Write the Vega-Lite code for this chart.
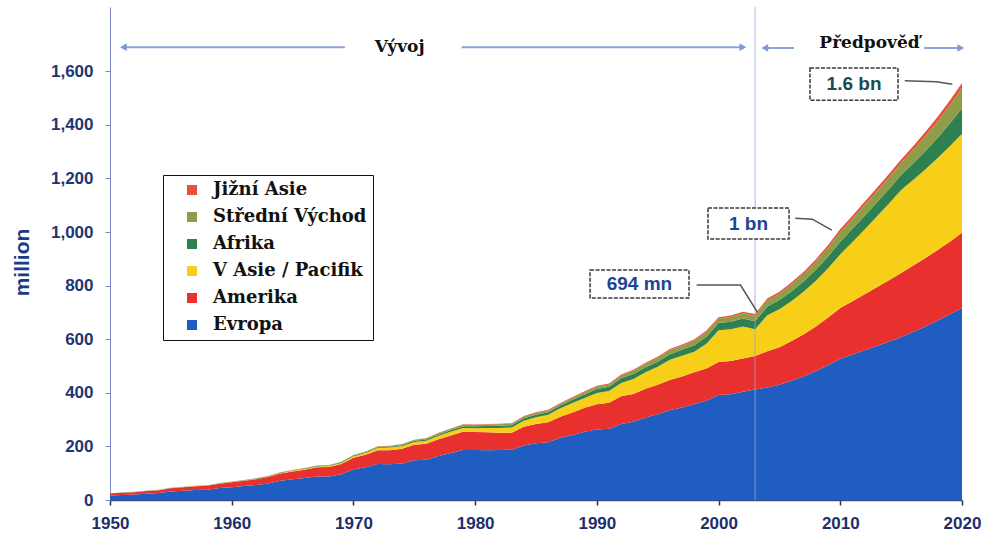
{
  "$schema": "https://vega.github.io/schema/vega-lite/v6.json",
  "width": 852,
  "height": 493,
  "autosize": {"type": "none"},
  "padding": {"left": 110, "top": 7, "right": 23, "bottom": 41},
  "background": "white",
  "config": {"view": {"stroke": null}},
  "datasets": {
    "oblasti": [
      {"oblast": "Evropa", "poradi": 1},
      {"oblast": "Amerika", "poradi": 2},
      {"oblast": "V Asie / Pacifik", "poradi": 3},
      {"oblast": "Afrika", "poradi": 4},
      {"oblast": "Střední Východ", "poradi": 5},
      {"oblast": "Jižní Asie", "poradi": 6}
    ],
    "prichody": [
      {"rok":1950,"oblast":"Evropa","mil":16.8},{"rok":1950,"oblast":"Amerika","mil":7.5},{"rok":1950,"oblast":"V Asie / Pacifik","mil":0.2},{"rok":1950,"oblast":"Afrika","mil":0.5},{"rok":1950,"oblast":"Střední Východ","mil":0.2},{"rok":1950,"oblast":"Jižní Asie","mil":0.1},
      {"rok":1951,"oblast":"Evropa","mil":18.5},{"rok":1951,"oblast":"Amerika","mil":8.2},{"rok":1951,"oblast":"V Asie / Pacifik","mil":0.3},{"rok":1951,"oblast":"Afrika","mil":0.6},{"rok":1951,"oblast":"Střední Východ","mil":0.3},{"rok":1951,"oblast":"Jižní Asie","mil":0.1},
      {"rok":1952,"oblast":"Evropa","mil":20.5},{"rok":1952,"oblast":"Amerika","mil":8.6},{"rok":1952,"oblast":"V Asie / Pacifik","mil":0.3},{"rok":1952,"oblast":"Afrika","mil":0.6},{"rok":1952,"oblast":"Střední Východ","mil":0.3},{"rok":1952,"oblast":"Jižní Asie","mil":0.1},
      {"rok":1953,"oblast":"Evropa","mil":23.6},{"rok":1953,"oblast":"Amerika","mil":9.8},{"rok":1953,"oblast":"V Asie / Pacifik","mil":0.4},{"rok":1953,"oblast":"Afrika","mil":0.6},{"rok":1953,"oblast":"Střední Východ","mil":0.4},{"rok":1953,"oblast":"Jižní Asie","mil":0.1},
      {"rok":1954,"oblast":"Evropa","mil":26.0},{"rok":1954,"oblast":"Amerika","mil":10.5},{"rok":1954,"oblast":"V Asie / Pacifik","mil":0.4},{"rok":1954,"oblast":"Afrika","mil":0.7},{"rok":1954,"oblast":"Střední Východ","mil":0.4},{"rok":1954,"oblast":"Jižní Asie","mil":0.1},
      {"rok":1955,"oblast":"Evropa","mil":31.5},{"rok":1955,"oblast":"Amerika","mil":12.3},{"rok":1955,"oblast":"V Asie / Pacifik","mil":0.5},{"rok":1955,"oblast":"Afrika","mil":0.7},{"rok":1955,"oblast":"Střední Východ","mil":0.5},{"rok":1955,"oblast":"Jižní Asie","mil":0.1},
      {"rok":1956,"oblast":"Evropa","mil":34.5},{"rok":1956,"oblast":"Amerika","mil":13.2},{"rok":1956,"oblast":"V Asie / Pacifik","mil":0.5},{"rok":1956,"oblast":"Afrika","mil":0.7},{"rok":1956,"oblast":"Střední Východ","mil":0.5},{"rok":1956,"oblast":"Jižní Asie","mil":0.1},
      {"rok":1957,"oblast":"Evropa","mil":37.2},{"rok":1957,"oblast":"Amerika","mil":14.0},{"rok":1957,"oblast":"V Asie / Pacifik","mil":0.6},{"rok":1957,"oblast":"Afrika","mil":0.7},{"rok":1957,"oblast":"Střední Východ","mil":0.5},{"rok":1957,"oblast":"Jižní Asie","mil":0.1},
      {"rok":1958,"oblast":"Evropa","mil":38.5},{"rok":1958,"oblast":"Amerika","mil":14.5},{"rok":1958,"oblast":"V Asie / Pacifik","mil":0.6},{"rok":1958,"oblast":"Afrika","mil":0.7},{"rok":1958,"oblast":"Střední Východ","mil":0.5},{"rok":1958,"oblast":"Jižní Asie","mil":0.2},
      {"rok":1959,"oblast":"Evropa","mil":44.5},{"rok":1959,"oblast":"Amerika","mil":16.5},{"rok":1959,"oblast":"V Asie / Pacifik","mil":0.7},{"rok":1959,"oblast":"Afrika","mil":0.8},{"rok":1959,"oblast":"Střední Východ","mil":0.6},{"rok":1959,"oblast":"Jižní Asie","mil":0.2},
      {"rok":1960,"oblast":"Evropa","mil":47.5},{"rok":1960,"oblast":"Amerika","mil":19.0},{"rok":1960,"oblast":"V Asie / Pacifik","mil":0.8},{"rok":1960,"oblast":"Afrika","mil":0.8},{"rok":1960,"oblast":"Střední Východ","mil":0.6},{"rok":1960,"oblast":"Jižní Asie","mil":0.2},
      {"rok":1961,"oblast":"Evropa","mil":52},{"rok":1961,"oblast":"Amerika","mil":20},{"rok":1961,"oblast":"V Asie / Pacifik","mil":1.0},{"rok":1961,"oblast":"Afrika","mil":0.9},{"rok":1961,"oblast":"Střední Východ","mil":0.7},{"rok":1961,"oblast":"Jižní Asie","mil":0.2},
      {"rok":1962,"oblast":"Evropa","mil":56},{"rok":1962,"oblast":"Amerika","mil":21.5},{"rok":1962,"oblast":"V Asie / Pacifik","mil":1.3},{"rok":1962,"oblast":"Afrika","mil":1.0},{"rok":1962,"oblast":"Střední Východ","mil":0.8},{"rok":1962,"oblast":"Jižní Asie","mil":0.3},
      {"rok":1963,"oblast":"Evropa","mil":62},{"rok":1963,"oblast":"Amerika","mil":23.5},{"rok":1963,"oblast":"V Asie / Pacifik","mil":1.6},{"rok":1963,"oblast":"Afrika","mil":1.1},{"rok":1963,"oblast":"Střední Východ","mil":0.9},{"rok":1963,"oblast":"Jižní Asie","mil":0.3},
      {"rok":1964,"oblast":"Evropa","mil":72},{"rok":1964,"oblast":"Amerika","mil":27},{"rok":1964,"oblast":"V Asie / Pacifik","mil":2.0},{"rok":1964,"oblast":"Afrika","mil":1.2},{"rok":1964,"oblast":"Střední Východ","mil":1.1},{"rok":1964,"oblast":"Jižní Asie","mil":0.3},
      {"rok":1965,"oblast":"Evropa","mil":77.5},{"rok":1965,"oblast":"Amerika","mil":29},{"rok":1965,"oblast":"V Asie / Pacifik","mil":2.4},{"rok":1965,"oblast":"Afrika","mil":1.3},{"rok":1965,"oblast":"Střední Východ","mil":1.2},{"rok":1965,"oblast":"Jižní Asie","mil":0.4},
      {"rok":1966,"oblast":"Evropa","mil":82},{"rok":1966,"oblast":"Amerika","mil":31},{"rok":1966,"oblast":"V Asie / Pacifik","mil":2.8},{"rok":1966,"oblast":"Afrika","mil":1.5},{"rok":1966,"oblast":"Střední Východ","mil":1.3},{"rok":1966,"oblast":"Jižní Asie","mil":0.4},
      {"rok":1967,"oblast":"Evropa","mil":88},{"rok":1967,"oblast":"Amerika","mil":34},{"rok":1967,"oblast":"V Asie / Pacifik","mil":3.3},{"rok":1967,"oblast":"Afrika","mil":1.7},{"rok":1967,"oblast":"Střední Východ","mil":1.4},{"rok":1967,"oblast":"Jižní Asie","mil":0.4},
      {"rok":1968,"oblast":"Evropa","mil":88},{"rok":1968,"oblast":"Amerika","mil":35},{"rok":1968,"oblast":"V Asie / Pacifik","mil":3.8},{"rok":1968,"oblast":"Afrika","mil":1.9},{"rok":1968,"oblast":"Střední Východ","mil":1.5},{"rok":1968,"oblast":"Jižní Asie","mil":0.5},
      {"rok":1969,"oblast":"Evropa","mil":96},{"rok":1969,"oblast":"Amerika","mil":38},{"rok":1969,"oblast":"V Asie / Pacifik","mil":4.5},{"rok":1969,"oblast":"Afrika","mil":2.1},{"rok":1969,"oblast":"Střední Východ","mil":1.7},{"rok":1969,"oblast":"Jižní Asie","mil":0.5},
      {"rok":1970,"oblast":"Evropa","mil":114},{"rok":1970,"oblast":"Amerika","mil":44},{"rok":1970,"oblast":"V Asie / Pacifik","mil":5.5},{"rok":1970,"oblast":"Afrika","mil":2.4},{"rok":1970,"oblast":"Střední Východ","mil":1.9},{"rok":1970,"oblast":"Jižní Asie","mil":0.6},
      {"rok":1971,"oblast":"Evropa","mil":122},{"rok":1971,"oblast":"Amerika","mil":47},{"rok":1971,"oblast":"V Asie / Pacifik","mil":6.4},{"rok":1971,"oblast":"Afrika","mil":2.7},{"rok":1971,"oblast":"Střední Východ","mil":2.1},{"rok":1971,"oblast":"Jižní Asie","mil":0.7},
      {"rok":1972,"oblast":"Evropa","mil":134},{"rok":1972,"oblast":"Amerika","mil":52},{"rok":1972,"oblast":"V Asie / Pacifik","mil":8.0},{"rok":1972,"oblast":"Afrika","mil":3.0},{"rok":1972,"oblast":"Střední Východ","mil":2.4},{"rok":1972,"oblast":"Jižní Asie","mil":0.8},
      {"rok":1973,"oblast":"Evropa","mil":133},{"rok":1973,"oblast":"Amerika","mil":53},{"rok":1973,"oblast":"V Asie / Pacifik","mil":9.5},{"rok":1973,"oblast":"Afrika","mil":3.3},{"rok":1973,"oblast":"Střední Východ","mil":2.6},{"rok":1973,"oblast":"Jižní Asie","mil":0.9},
      {"rok":1974,"oblast":"Evropa","mil":136},{"rok":1974,"oblast":"Amerika","mil":55},{"rok":1974,"oblast":"V Asie / Pacifik","mil":10.0},{"rok":1974,"oblast":"Afrika","mil":3.7},{"rok":1974,"oblast":"Střední Východ","mil":3.0},{"rok":1974,"oblast":"Jižní Asie","mil":1.0},
      {"rok":1975,"oblast":"Evropa","mil":148},{"rok":1975,"oblast":"Amerika","mil":58},{"rok":1975,"oblast":"V Asie / Pacifik","mil":10.5},{"rok":1975,"oblast":"Afrika","mil":4.2},{"rok":1975,"oblast":"Střední Východ","mil":3.5},{"rok":1975,"oblast":"Jižní Asie","mil":1.1},
      {"rok":1976,"oblast":"Evropa","mil":150},{"rok":1976,"oblast":"Amerika","mil":60},{"rok":1976,"oblast":"V Asie / Pacifik","mil":11.5},{"rok":1976,"oblast":"Afrika","mil":4.6},{"rok":1976,"oblast":"Střední Východ","mil":4.0},{"rok":1976,"oblast":"Jižní Asie","mil":1.2},
      {"rok":1977,"oblast":"Evropa","mil":164},{"rok":1977,"oblast":"Amerika","mil":63},{"rok":1977,"oblast":"V Asie / Pacifik","mil":12.5},{"rok":1977,"oblast":"Afrika","mil":5.2},{"rok":1977,"oblast":"Střední Východ","mil":4.6},{"rok":1977,"oblast":"Jižní Asie","mil":1.4},
      {"rok":1978,"oblast":"Evropa","mil":175},{"rok":1978,"oblast":"Amerika","mil":66},{"rok":1978,"oblast":"V Asie / Pacifik","mil":13.5},{"rok":1978,"oblast":"Afrika","mil":5.8},{"rok":1978,"oblast":"Střední Východ","mil":5.2},{"rok":1978,"oblast":"Jižní Asie","mil":1.6},
      {"rok":1979,"oblast":"Evropa","mil":187},{"rok":1979,"oblast":"Amerika","mil":68},{"rok":1979,"oblast":"V Asie / Pacifik","mil":14.0},{"rok":1979,"oblast":"Afrika","mil":6.5},{"rok":1979,"oblast":"Střední Východ","mil":5.5},{"rok":1979,"oblast":"Jižní Asie","mil":1.8},
      {"rok":1980,"oblast":"Evropa","mil":187},{"rok":1980,"oblast":"Amerika","mil":67},{"rok":1980,"oblast":"V Asie / Pacifik","mil":14},{"rok":1980,"oblast":"Afrika","mil":7},{"rok":1980,"oblast":"Střední Východ","mil":5},{"rok":1980,"oblast":"Jižní Asie","mil":1.8},
      {"rok":1981,"oblast":"Evropa","mil":186},{"rok":1981,"oblast":"Amerika","mil":67},{"rok":1981,"oblast":"V Asie / Pacifik","mil":16},{"rok":1981,"oblast":"Afrika","mil":7.5},{"rok":1981,"oblast":"Střední Východ","mil":5.3},{"rok":1981,"oblast":"Jižní Asie","mil":1.9},
      {"rok":1982,"oblast":"Evropa","mil":187},{"rok":1982,"oblast":"Amerika","mil":64},{"rok":1982,"oblast":"V Asie / Pacifik","mil":18},{"rok":1982,"oblast":"Afrika","mil":8},{"rok":1982,"oblast":"Střední Východ","mil":5.6},{"rok":1982,"oblast":"Jižní Asie","mil":2.0},
      {"rok":1983,"oblast":"Evropa","mil":188},{"rok":1983,"oblast":"Amerika","mil":63},{"rok":1983,"oblast":"V Asie / Pacifik","mil":20},{"rok":1983,"oblast":"Afrika","mil":8},{"rok":1983,"oblast":"Střední Východ","mil":5.8},{"rok":1983,"oblast":"Jižní Asie","mil":2.0},
      {"rok":1984,"oblast":"Evropa","mil":203},{"rok":1984,"oblast":"Amerika","mil":70},{"rok":1984,"oblast":"V Asie / Pacifik","mil":23},{"rok":1984,"oblast":"Afrika","mil":9},{"rok":1984,"oblast":"Střední Východ","mil":6.0},{"rok":1984,"oblast":"Jižní Asie","mil":2.1},
      {"rok":1985,"oblast":"Evropa","mil":212},{"rok":1985,"oblast":"Amerika","mil":72},{"rok":1985,"oblast":"V Asie / Pacifik","mil":25},{"rok":1985,"oblast":"Afrika","mil":9.5},{"rok":1985,"oblast":"Střední Východ","mil":6.5},{"rok":1985,"oblast":"Jižní Asie","mil":2.3},
      {"rok":1986,"oblast":"Evropa","mil":216},{"rok":1986,"oblast":"Amerika","mil":74},{"rok":1986,"oblast":"V Asie / Pacifik","mil":28},{"rok":1986,"oblast":"Afrika","mil":9.8},{"rok":1986,"oblast":"Střední Východ","mil":6.4},{"rok":1986,"oblast":"Jižní Asie","mil":2.4},
      {"rok":1987,"oblast":"Evropa","mil":232},{"rok":1987,"oblast":"Amerika","mil":79},{"rok":1987,"oblast":"V Asie / Pacifik","mil":31},{"rok":1987,"oblast":"Afrika","mil":10.5},{"rok":1987,"oblast":"Střední Východ","mil":7.0},{"rok":1987,"oblast":"Jižní Asie","mil":2.6},
      {"rok":1988,"oblast":"Evropa","mil":243},{"rok":1988,"oblast":"Amerika","mil":84},{"rok":1988,"oblast":"V Asie / Pacifik","mil":35},{"rok":1988,"oblast":"Afrika","mil":12},{"rok":1988,"oblast":"Střední Východ","mil":7.5},{"rok":1988,"oblast":"Jižní Asie","mil":2.8},
      {"rok":1989,"oblast":"Evropa","mil":255},{"rok":1989,"oblast":"Amerika","mil":89},{"rok":1989,"oblast":"V Asie / Pacifik","mil":37},{"rok":1989,"oblast":"Afrika","mil":13},{"rok":1989,"oblast":"Střední Východ","mil":8.5},{"rok":1989,"oblast":"Jižní Asie","mil":3.0},
      {"rok":1990,"oblast":"Evropa","mil":263},{"rok":1990,"oblast":"Amerika","mil":94},{"rok":1990,"oblast":"V Asie / Pacifik","mil":42},{"rok":1990,"oblast":"Afrika","mil":15},{"rok":1990,"oblast":"Střední Východ","mil":9.5},{"rok":1990,"oblast":"Jižní Asie","mil":3.2},
      {"rok":1991,"oblast":"Evropa","mil":266},{"rok":1991,"oblast":"Amerika","mil":97},{"rok":1991,"oblast":"V Asie / Pacifik","mil":44},{"rok":1991,"oblast":"Afrika","mil":16},{"rok":1991,"oblast":"Střední Východ","mil":8.5},{"rok":1991,"oblast":"Jižní Asie","mil":3.3},
      {"rok":1992,"oblast":"Evropa","mil":284},{"rok":1992,"oblast":"Amerika","mil":103},{"rok":1992,"oblast":"V Asie / Pacifik","mil":50},{"rok":1992,"oblast":"Afrika","mil":17},{"rok":1992,"oblast":"Střední Východ","mil":11},{"rok":1992,"oblast":"Jižní Asie","mil":3.7},
      {"rok":1993,"oblast":"Evropa","mil":292},{"rok":1993,"oblast":"Amerika","mil":104},{"rok":1993,"oblast":"V Asie / Pacifik","mil":56},{"rok":1993,"oblast":"Afrika","mil":18},{"rok":1993,"oblast":"Střední Východ","mil":12},{"rok":1993,"oblast":"Jižní Asie","mil":3.8},
      {"rok":1994,"oblast":"Evropa","mil":308},{"rok":1994,"oblast":"Amerika","mil":107},{"rok":1994,"oblast":"V Asie / Pacifik","mil":62},{"rok":1994,"oblast":"Afrika","mil":18.5},{"rok":1994,"oblast":"Střední Východ","mil":13},{"rok":1994,"oblast":"Jižní Asie","mil":4.0},
      {"rok":1995,"oblast":"Evropa","mil":320},{"rok":1995,"oblast":"Amerika","mil":110},{"rok":1995,"oblast":"V Asie / Pacifik","mil":67},{"rok":1995,"oblast":"Afrika","mil":19},{"rok":1995,"oblast":"Střední Východ","mil":14},{"rok":1995,"oblast":"Jižní Asie","mil":4.2},
      {"rok":1996,"oblast":"Evropa","mil":335},{"rok":1996,"oblast":"Amerika","mil":113},{"rok":1996,"oblast":"V Asie / Pacifik","mil":75},{"rok":1996,"oblast":"Afrika","mil":21},{"rok":1996,"oblast":"Střední Východ","mil":15},{"rok":1996,"oblast":"Jižní Asie","mil":4.4},
      {"rok":1997,"oblast":"Evropa","mil":345},{"rok":1997,"oblast":"Amerika","mil":116},{"rok":1997,"oblast":"V Asie / Pacifik","mil":77},{"rok":1997,"oblast":"Afrika","mil":23},{"rok":1997,"oblast":"Střední Východ","mil":15},{"rok":1997,"oblast":"Jižní Asie","mil":4.8},
      {"rok":1998,"oblast":"Evropa","mil":358},{"rok":1998,"oblast":"Amerika","mil":119},{"rok":1998,"oblast":"V Asie / Pacifik","mil":76},{"rok":1998,"oblast":"Afrika","mil":25},{"rok":1998,"oblast":"Střední Východ","mil":16},{"rok":1998,"oblast":"Jižní Asie","mil":5.0},
      {"rok":1999,"oblast":"Evropa","mil":370},{"rok":1999,"oblast":"Amerika","mil":121},{"rok":1999,"oblast":"V Asie / Pacifik","mil":92},{"rok":1999,"oblast":"Afrika","mil":26},{"rok":1999,"oblast":"Střední Východ","mil":18},{"rok":1999,"oblast":"Jižní Asie","mil":5.4},
      {"rok":2000,"oblast":"Evropa","mil":392},{"rok":2000,"oblast":"Amerika","mil":123},{"rok":2000,"oblast":"V Asie / Pacifik","mil":119},{"rok":2000,"oblast":"Afrika","mil":27},{"rok":2000,"oblast":"Střední Východ","mil":16},{"rok":2000,"oblast":"Jižní Asie","mil":5},
      {"rok":2001,"oblast":"Evropa","mil":395},{"rok":2001,"oblast":"Amerika","mil":124},{"rok":2001,"oblast":"V Asie / Pacifik","mil":118},{"rok":2001,"oblast":"Afrika","mil":28},{"rok":2001,"oblast":"Střední Východ","mil":18},{"rok":2001,"oblast":"Jižní Asie","mil":6},
      {"rok":2002,"oblast":"Evropa","mil":404},{"rok":2002,"oblast":"Amerika","mil":124},{"rok":2002,"oblast":"V Asie / Pacifik","mil":120},{"rok":2002,"oblast":"Afrika","mil":29},{"rok":2002,"oblast":"Střední Východ","mil":20},{"rok":2002,"oblast":"Jižní Asie","mil":6},
      {"rok":2003,"oblast":"Evropa","mil":412},{"rok":2003,"oblast":"Amerika","mil":125},{"rok":2003,"oblast":"V Asie / Pacifik","mil":100},{"rok":2003,"oblast":"Afrika","mil":30},{"rok":2003,"oblast":"Střední Východ","mil":21},{"rok":2003,"oblast":"Jižní Asie","mil":6},
      {"rok":2004,"oblast":"Evropa","mil":420},{"rok":2004,"oblast":"Amerika","mil":135},{"rok":2004,"oblast":"V Asie / Pacifik","mil":135},{"rok":2004,"oblast":"Afrika","mil":32},{"rok":2004,"oblast":"Střední Východ","mil":23},{"rok":2004,"oblast":"Jižní Asie","mil":7},
      {"rok":2005,"oblast":"Evropa","mil":430},{"rok":2005,"oblast":"Amerika","mil":140},{"rok":2005,"oblast":"V Asie / Pacifik","mil":142},{"rok":2005,"oblast":"Afrika","mil":34},{"rok":2005,"oblast":"Střední Východ","mil":24},{"rok":2005,"oblast":"Jižní Asie","mil":7},
      {"rok":2006,"oblast":"Evropa","mil":445},{"rok":2006,"oblast":"Amerika","mil":148},{"rok":2006,"oblast":"V Asie / Pacifik","mil":150},{"rok":2006,"oblast":"Afrika","mil":36},{"rok":2006,"oblast":"Střední Východ","mil":26},{"rok":2006,"oblast":"Jižní Asie","mil":8},
      {"rok":2007,"oblast":"Evropa","mil":462},{"rok":2007,"oblast":"Amerika","mil":157},{"rok":2007,"oblast":"V Asie / Pacifik","mil":159},{"rok":2007,"oblast":"Afrika","mil":38},{"rok":2007,"oblast":"Střední Východ","mil":28},{"rok":2007,"oblast":"Jižní Asie","mil":8},
      {"rok":2008,"oblast":"Evropa","mil":481},{"rok":2008,"oblast":"Amerika","mil":167},{"rok":2008,"oblast":"V Asie / Pacifik","mil":170},{"rok":2008,"oblast":"Afrika","mil":41},{"rok":2008,"oblast":"Střední Východ","mil":31},{"rok":2008,"oblast":"Jižní Asie","mil":9},
      {"rok":2009,"oblast":"Evropa","mil":503},{"rok":2009,"oblast":"Amerika","mil":178},{"rok":2009,"oblast":"V Asie / Pacifik","mil":184},{"rok":2009,"oblast":"Afrika","mil":44},{"rok":2009,"oblast":"Střední Východ","mil":33},{"rok":2009,"oblast":"Jižní Asie","mil":10},
      {"rok":2010,"oblast":"Evropa","mil":527},{"rok":2010,"oblast":"Amerika","mil":190},{"rok":2010,"oblast":"V Asie / Pacifik","mil":200},{"rok":2010,"oblast":"Afrika","mil":47},{"rok":2010,"oblast":"Střední Východ","mil":36},{"rok":2010,"oblast":"Jižní Asie","mil":11},
      {"rok":2011,"oblast":"Evropa","mil":543},{"rok":2011,"oblast":"Amerika","mil":199},{"rok":2011,"oblast":"V Asie / Pacifik","mil":221},{"rok":2011,"oblast":"Afrika","mil":49},{"rok":2011,"oblast":"Střední Východ","mil":38},{"rok":2011,"oblast":"Jižní Asie","mil":11},
      {"rok":2012,"oblast":"Evropa","mil":559},{"rok":2012,"oblast":"Amerika","mil":209},{"rok":2012,"oblast":"V Asie / Pacifik","mil":242},{"rok":2012,"oblast":"Afrika","mil":51},{"rok":2012,"oblast":"Střední Východ","mil":40},{"rok":2012,"oblast":"Jižní Asie","mil":12},
      {"rok":2013,"oblast":"Evropa","mil":575},{"rok":2013,"oblast":"Amerika","mil":219},{"rok":2013,"oblast":"V Asie / Pacifik","mil":264},{"rok":2013,"oblast":"Afrika","mil":52},{"rok":2013,"oblast":"Střední Východ","mil":42},{"rok":2013,"oblast":"Jižní Asie","mil":12},
      {"rok":2014,"oblast":"Evropa","mil":591},{"rok":2014,"oblast":"Amerika","mil":229},{"rok":2014,"oblast":"V Asie / Pacifik","mil":287},{"rok":2014,"oblast":"Afrika","mil":54},{"rok":2014,"oblast":"Střední Východ","mil":43},{"rok":2014,"oblast":"Jižní Asie","mil":13},
      {"rok":2015,"oblast":"Evropa","mil":608},{"rok":2015,"oblast":"Amerika","mil":239},{"rok":2015,"oblast":"V Asie / Pacifik","mil":310},{"rok":2015,"oblast":"Afrika","mil":56},{"rok":2015,"oblast":"Střední Východ","mil":45},{"rok":2015,"oblast":"Jižní Asie","mil":13},
      {"rok":2016,"oblast":"Evropa","mil":628},{"rok":2016,"oblast":"Amerika","mil":247},{"rok":2016,"oblast":"V Asie / Pacifik","mil":320},{"rok":2016,"oblast":"Afrika","mil":62},{"rok":2016,"oblast":"Střední Východ","mil":50},{"rok":2016,"oblast":"Jižní Asie","mil":14},
      {"rok":2017,"oblast":"Evropa","mil":648},{"rok":2017,"oblast":"Amerika","mil":255},{"rok":2017,"oblast":"V Asie / Pacifik","mil":331},{"rok":2017,"oblast":"Afrika","mil":69},{"rok":2017,"oblast":"Střední Východ","mil":56},{"rok":2017,"oblast":"Jižní Asie","mil":15},
      {"rok":2018,"oblast":"Evropa","mil":670},{"rok":2018,"oblast":"Amerika","mil":263},{"rok":2018,"oblast":"V Asie / Pacifik","mil":343},{"rok":2018,"oblast":"Afrika","mil":76},{"rok":2018,"oblast":"Střední Východ","mil":62},{"rok":2018,"oblast":"Jižní Asie","mil":16},
      {"rok":2019,"oblast":"Evropa","mil":693},{"rok":2019,"oblast":"Amerika","mil":271},{"rok":2019,"oblast":"V Asie / Pacifik","mil":356},{"rok":2019,"oblast":"Afrika","mil":85},{"rok":2019,"oblast":"Střední Východ","mil":68},{"rok":2019,"oblast":"Jižní Asie","mil":18},
      {"rok":2020,"oblast":"Evropa","mil":717},{"rok":2020,"oblast":"Amerika","mil":280},{"rok":2020,"oblast":"V Asie / Pacifik","mil":370},{"rok":2020,"oblast":"Afrika","mil":95},{"rok":2020,"oblast":"Střední Východ","mil":75},{"rok":2020,"oblast":"Jižní Asie","mil":19}
    ]
  },
  "layer": [
    {
      "data": {"name": "prichody"},
      "transform": [{"lookup": "oblast", "from": {"data": {"name": "oblasti"}, "key": "oblast", "fields": ["poradi"]}}],
      "mark": {"type": "area", "interpolate": "linear"},
      "encoding": {
        "x": {"field": "rok", "type": "quantitative",
          "scale": {"domain": [1950, 2020], "nice": false, "zero": false},
          "axis": {"title": null, "values": [1950, 1960, 1970, 1980, 1990, 2000, 2010, 2020], "format": "d",
            "labelFont": "Liberation Sans", "labelFontWeight": "bold", "labelFontSize": 17, "labelColor": "#1c2f6b",
            "labelFlush": false, "labelOverlap": false, "labelPadding": 10, "grid": false,
            "domainColor": "#3a4a8a", "domainWidth": 1.5, "tickColor": "#333333", "tickSize": 5, "tickWidth": 1.5}},
        "y": {"field": "mil", "type": "quantitative", "stack": "zero",
          "scale": {"domain": [0, 1840], "nice": false},
          "axis": {"title": "million", "values": [0, 200, 400, 600, 800, 1000, 1200, 1400, 1600], "format": ",d",
            "labelFont": "Liberation Sans", "labelFontWeight": "bold", "labelFontSize": 17, "labelColor": "#1f3576",
            "labelFlush": false, "labelOverlap": false, "labelPadding": 12, "grid": false,
            "domainColor": "#8088c8", "tickColor": "#8088c8", "tickSize": 5,
            "titleFont": "Liberation Sans", "titleFontSize": 21, "titleFontWeight": "bold", "titleColor": "#1a3a8a",
            "titleX": -88, "titleY": 255, "titleAngle": -90, "titleAlign": "center", "titleBaseline": "middle"}},
        "color": {"field": "oblast", "type": "nominal",
          "scale": {"domain": ["Jižní Asie", "Střední Východ", "Afrika", "V Asie / Pacifik", "Amerika", "Evropa"],
                    "range": ["#e8513c", "#8f9c48", "#2f8050", "#f7cf18", "#e8302f", "#1f5dc0"]},
          "legend": {"title": null, "orient": "none", "legendX": 53, "legendY": 168,
            "symbolType": "square", "symbolSize": 100, "symbolStrokeWidth": 0, "symbolOffset": 14,
            "labelFont": "DejaVu Serif", "labelFontWeight": "bold", "labelFontSize": 18, "labelColor": "#111111",
            "labelOffset": 12, "labelLimit": 400, "rowPadding": 9, "padding": 6,
            "strokeColor": "#111111", "fillColor": "white"}},
        "order": {"field": "poradi", "type": "quantitative"}
      }
    },
    {
      "data": {"values": [{"rok": 2003}]},
      "mark": {"type": "rule", "color": "#9aa3d6", "strokeWidth": 1, "opacity": 0.8},
      "encoding": {"x": {"field": "rok", "type": "quantitative"}}
    },
    {
      "data": {"values": [
        {"rok": 1951.2, "rok2": 1969.3, "mil": 1690},
        {"rok": 1978.9, "rok2": 2001.8, "mil": 1690},
        {"rok": 2003.9, "rok2": 2006.2, "mil": 1687},
        {"rok": 2016.9, "rok2": 2019.8, "mil": 1687}
      ]},
      "mark": {"type": "rule", "color": "#8ea2dc", "strokeWidth": 2},
      "encoding": {
        "x": {"field": "rok", "type": "quantitative"},
        "x2": {"field": "rok2"},
        "y": {"field": "mil", "type": "quantitative"}
      }
    },
    {
      "data": {"values": [
        {"rok": 1951.1, "mil": 1690, "smer": "vlevo"},
        {"rok": 2002.0, "mil": 1690, "smer": "vpravo"},
        {"rok": 2003.8, "mil": 1687, "smer": "vlevo"},
        {"rok": 2019.9, "mil": 1687, "smer": "vpravo"}
      ]},
      "mark": {"type": "point", "filled": true, "color": "#7d96dc", "size": 60, "opacity": 1},
      "encoding": {
        "x": {"field": "rok", "type": "quantitative"},
        "y": {"field": "mil", "type": "quantitative"},
        "shape": {"field": "smer", "type": "nominal", "scale": {"domain": ["vlevo", "vpravo"], "range": ["triangle-left", "triangle-right"]}, "legend": null}
      }
    },
    {
      "data": {"values": [
        {"rok": 1973.8, "mil": 1690, "text": "Vývoj"},
        {"rok": 2012.4, "mil": 1705, "text": "Předpověď"}
      ]},
      "mark": {"type": "text", "font": "DejaVu Serif", "fontWeight": "bold", "fontSize": 17, "color": "#111111", "align": "center", "baseline": "middle"},
      "encoding": {
        "x": {"field": "rok", "type": "quantitative"},
        "y": {"field": "mil", "type": "quantitative"},
        "text": {"field": "text"}
      }
    },
    {
      "data": {"values": [
        {"cara": "a", "rok": 1998.2, "mil": 802},
        {"cara": "a", "rok": 2001.8, "mil": 802},
        {"cara": "a", "rok": 2003.2, "mil": 700},
        {"cara": "b", "rok": 2006.3, "mil": 1052},
        {"cara": "b", "rok": 2007.7, "mil": 1048},
        {"cara": "b", "rok": 2009.3, "mil": 1007},
        {"cara": "c", "rok": 2015.3, "mil": 1565},
        {"cara": "c", "rok": 2017.9, "mil": 1561},
        {"cara": "c", "rok": 2019.2, "mil": 1552}
      ]},
      "mark": {"type": "line", "color": "#555555", "strokeWidth": 1.5},
      "encoding": {
        "x": {"field": "rok", "type": "quantitative"},
        "y": {"field": "mil", "type": "quantitative"},
        "detail": {"field": "cara", "type": "nominal"}
      }
    },
    {
      "data": {"values": [
        {"rok": 1989.44, "rok2": 1997.57, "mil": 858, "mil2": 754},
        {"rok": 1999.13, "rok2": 2005.79, "mil": 1090, "mil2": 974},
        {"rok": 2007.51, "rok2": 2014.74, "mil": 1612, "mil2": 1492}
      ]},
      "mark": {"type": "rect", "fill": "white", "stroke": "#3a3a3a", "strokeWidth": 1.5, "strokeDash": [4, 1.5]},
      "encoding": {
        "x": {"field": "rok", "type": "quantitative"},
        "x2": {"field": "rok2"},
        "y": {"field": "mil", "type": "quantitative"},
        "y2": {"field": "mil2"}
      }
    },
    {
      "data": {"values": [
        {"rok": 1993.5, "mil": 805, "text": "694 mn"},
        {"rok": 2002.46, "mil": 1031, "text": "1 bn"}
      ]},
      "mark": {"type": "text", "font": "Liberation Sans", "fontWeight": "bold", "fontSize": 19, "color": "#1d4596", "align": "center", "baseline": "middle"},
      "encoding": {
        "x": {"field": "rok", "type": "quantitative"},
        "y": {"field": "mil", "type": "quantitative"},
        "text": {"field": "text"}
      }
    },
    {
      "data": {"values": [
        {"rok": 2011.13, "mil": 1552, "text": "1.6 bn"}
      ]},
      "mark": {"type": "text", "font": "Liberation Sans", "fontWeight": "bold", "fontSize": 19, "color": "#1a4b52", "align": "center", "baseline": "middle"},
      "encoding": {
        "x": {"field": "rok", "type": "quantitative"},
        "y": {"field": "mil", "type": "quantitative"},
        "text": {"field": "text"}
      }
    }
  ]
}
